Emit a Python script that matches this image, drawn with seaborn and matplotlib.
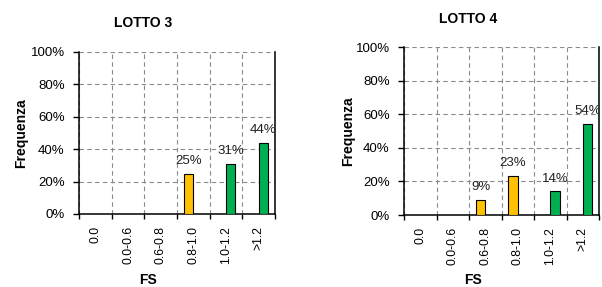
import matplotlib
matplotlib.use("Agg")
import matplotlib.pyplot as plt
import seaborn as sns
import pandas as pd
from matplotlib import font_manager

categories = ["0.0", "0.0-0.6", "0.6-0.8", "0.8-1.0", "1.0-1.2", ">1.2"]
series_of_cat = ["giallo", "giallo", "giallo", "giallo", "verde", "verde"]
lotto3 = [0, 0, 0, 25, 31, 44]
lotto4 = [0, 0, 9, 23, 14, 54]
titles = ["LOTTO 3", "LOTTO 4"]
yticks = [0, 20, 40, 60, 80, 100]
palette = {"giallo": "#FFC000", "verde": "#00B050"}

sns.set_theme(style="white")
names = {f.name for f in font_manager.fontManager.ttflist}
fam = "Liberation Sans Narrow" if "Liberation Sans Narrow" in names else "Liberation Sans"
plt.rcParams["font.family"] = [fam, "DejaVu Sans"]
plt.rcParams["text.color"] = "black"
plt.rcParams["xtick.color"] = "black"
plt.rcParams["ytick.color"] = "black"

fig = plt.figure(figsize=(6.02, 2.87), dpi=100)
W, H = 602, 287

def px(x0, y0, x1, y1):
    return [x0 / W, 1 - y1 / H, (x1 - x0) / W, (y1 - y0) / H]

axes_px = [(79, 52, 275, 214), (404, 47, 599, 215)]
title_xy = [(143, 23), (468, 19)]
fs_xy = [(148, 280), (473, 280)]
ylab_x = [21, 348]

for i, vals in enumerate([lotto3, lotto4]):
    ax = fig.add_axes(px(*axes_px[i]))
    df = pd.DataFrame({"FS": categories, "val": vals, "serie": series_of_cat})
    df = df[df["val"] > 0]
    sns.barplot(data=df, x="FS", y="val", hue="serie", order=categories,
                hue_order=["giallo", "verde"], palette=palette, dodge=True,
                saturation=1, width=0.58, edgecolor="black", linewidth=0.8,
                legend=False, ax=ax, zorder=3)
    ax.set_xlim(-0.5, len(categories) - 0.5)
    ax.set_ylim(0, 100)
    ax.set_yticks(yticks)
    ax.set_yticklabels([f"{v}%" for v in yticks], fontsize=9.5)
    ax.set_xticks([k - 0.5 for k in range(len(categories) + 1)], minor=False)
    ax.set_xticklabels([""] * (len(categories) + 1))
    ax.set_xticks(range(len(categories)), minor=True)
    ax.set_xticklabels(categories, minor=True, rotation=90, fontsize=8.8, va="top")
    ax.tick_params(axis="x", which="minor", length=0, pad=8.5)
    ax.tick_params(axis="x", which="major", length=3.6, width=1, color="black", direction="out", bottom=True)
    ax.tick_params(axis="y", length=4.3, width=1, color="black", direction="out", left=True, pad=6)
    ax.grid(True, axis="y", which="major", linestyle=(0, (4, 3)), color="#8a8a8a", linewidth=0.8, zorder=0)
    ax.grid(True, axis="x", which="major", linestyle=(0, (4, 3)), color="#8a8a8a", linewidth=0.8, zorder=0)
    for s in ["left", "bottom", "right"]:
        ax.spines[s].set_color("black")
        ax.spines[s].set_linewidth(1.1)
    ax.spines["top"].set_visible(False)
    ax.set_xlabel("")
    ax.set_ylabel("")
    for cont in ax.containers:
        for bar in cont:
            h = bar.get_height()
            if h > 0:
                t = ax.annotate(f"{h:.0f}%", (bar.get_x() + bar.get_width() / 2, h),
                                xytext=(0, 5), textcoords="offset points",
                                ha="center", va="bottom", fontsize=9.5, color="#222222",
                                annotation_clip=False)
                t.set_clip_box(ax.bbox)
                t.set_clip_on(True)
    fig.text(title_xy[i][0] / W, 1 - title_xy[i][1] / H, titles[i], ha="center", va="center",
             fontsize=10, fontweight="bold")
    fig.text(fs_xy[i][0] / W, 1 - fs_xy[i][1] / H, "FS", ha="center", va="center",
             fontsize=10, fontweight="bold")
    cy = (axes_px[i][1] + axes_px[i][3]) / 2
    fig.text(ylab_x[i] / W, 1 - cy / H, "Frequenza", ha="center", va="center",
             rotation=90, fontsize=10, fontweight="bold")

fig.savefig("out.png", dpi=100)
